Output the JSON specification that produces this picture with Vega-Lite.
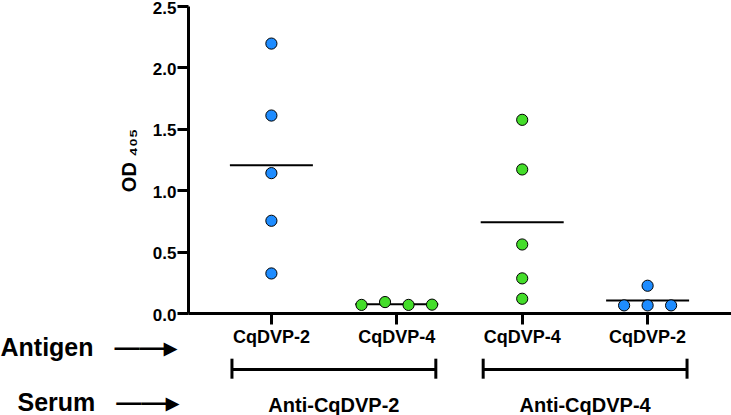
{
  "$schema": "https://vega.github.io/schema/vega-lite/v6.json",
  "width": 543,
  "height": 307,
  "autosize": "none",
  "padding": {"left": 188, "top": 6, "right": 0, "bottom": 102},
  "config": {
    "view": {"stroke": null},
    "font": "Liberation Sans",
    "axis": {"grid": false, "labelColor": "black", "titleColor": "black", "labelFont": "Liberation Sans", "titleFont": "Liberation Sans"}
  },
  "datasets": {
    "od": [
      {"group": "Anti-CqDVP-2 / CqDVP-2", "antigen": "CqDVP-2", "od": 2.194},
      {"group": "Anti-CqDVP-2 / CqDVP-2", "antigen": "CqDVP-2", "od": 1.608},
      {"group": "Anti-CqDVP-2 / CqDVP-2", "antigen": "CqDVP-2", "od": 1.139},
      {"group": "Anti-CqDVP-2 / CqDVP-2", "antigen": "CqDVP-2", "od": 0.751},
      {"group": "Anti-CqDVP-2 / CqDVP-2", "antigen": "CqDVP-2", "od": 0.322},
      {"group": "Anti-CqDVP-2 / CqDVP-4", "antigen": "CqDVP-4", "od": 0.066},
      {"group": "Anti-CqDVP-2 / CqDVP-4", "antigen": "CqDVP-4", "od": 0.089},
      {"group": "Anti-CqDVP-2 / CqDVP-4", "antigen": "CqDVP-4", "od": 0.066},
      {"group": "Anti-CqDVP-2 / CqDVP-4", "antigen": "CqDVP-4", "od": 0.068},
      {"group": "Anti-CqDVP-4 / CqDVP-4", "antigen": "CqDVP-4", "od": 1.573},
      {"group": "Anti-CqDVP-4 / CqDVP-4", "antigen": "CqDVP-4", "od": 1.169},
      {"group": "Anti-CqDVP-4 / CqDVP-4", "antigen": "CqDVP-4", "od": 0.558},
      {"group": "Anti-CqDVP-4 / CqDVP-4", "antigen": "CqDVP-4", "od": 0.282},
      {"group": "Anti-CqDVP-4 / CqDVP-4", "antigen": "CqDVP-4", "od": 0.116},
      {"group": "Anti-CqDVP-4 / CqDVP-2", "antigen": "CqDVP-2", "od": 0.062},
      {"group": "Anti-CqDVP-4 / CqDVP-2", "antigen": "CqDVP-2", "od": 0.062},
      {"group": "Anti-CqDVP-4 / CqDVP-2", "antigen": "CqDVP-2", "od": 0.062},
      {"group": "Anti-CqDVP-4 / CqDVP-2", "antigen": "CqDVP-2", "od": 0.222}
    ],
    "serum": [
      {"serum": "Anti-CqDVP-2"},
      {"serum": "Anti-CqDVP-4"}
    ]
  },
  "layer": [
    {
      "data": {"name": "od"},
      "encoding": {
        "x": {
          "field": "group",
          "type": "nominal",
          "scale": {
            "type": "band",
            "domain": ["Anti-CqDVP-2 / CqDVP-2", "Anti-CqDVP-2 / CqDVP-4", "Anti-CqDVP-4 / CqDVP-4", "Anti-CqDVP-4 / CqDVP-2"],
            "paddingInner": 0,
            "paddingOuter": 0.165
          },
          "axis": {
            "orient": "bottom",
            "title": "Antigen\u00a0\u00a0\u00a0\u2014\u2014\u25b8",
            "titleX": -188,
            "titleY": 42,
            "titleAlign": "left",
            "titleBaseline": "alphabetic",
            "titleFontSize": 25,
            "titleFontWeight": "bold",
            "labelExpr": "split(datum.label, ' / ')[1]",
            "labelAngle": 0,
            "labelFontSize": 18,
            "labelFontWeight": "bold",
            "labelPadding": 4,
            "labelOverlap": false,
            "domainColor": "black",
            "domainWidth": 3,
            "tickColor": "black",
            "tickWidth": 3,
            "tickSize": 11
          }
        },
        "y": {
          "field": "od",
          "type": "quantitative",
          "scale": {"domain": [0, 2.5], "nice": false},
          "axis": {
            "title": "OD \u2084\u2080\u2085",
            "titleX": -53,
            "titleY": 154,
            "titleAngle": -90,
            "titleAlign": "center",
            "titleBaseline": "alphabetic",
            "titleFontSize": 20,
            "titleFontWeight": "bold",
            "values": [0, 0.5, 1, 1.5, 2, 2.5],
            "format": ".1f",
            "labelFontSize": 17,
            "labelFontWeight": "bold",
            "labelPadding": 1,
            "labelOffset": 2,
            "labelFlush": false,
            "labelOverlap": false,
            "tickSize": 11,
            "tickWidth": 3,
            "tickColor": "black",
            "domainWidth": 3,
            "domainColor": "black"
          }
        }
      },
      "layer": [
        {
          "mark": {"type": "tick", "size": 83, "thickness": 2, "color": "black", "opacity": 1},
          "encoding": {
            "y": {"aggregate": "mean", "field": "od", "type": "quantitative"}
          }
        },
        {
          "transform": [
            {"bin": {"step": 0.1}, "field": "od", "as": ["od_bin", "od_bin_end"]},
            {"window": [{"op": "row_number", "as": "k"}, {"op": "count", "as": "n"}], "groupby": ["group", "od_bin"], "frame": [null, null]},
            {"calculate": "datum.k - (datum.n + 1) / 2", "as": "slot"}
          ],
          "mark": {"type": "circle", "size": 125, "opacity": 1, "stroke": "black", "strokeWidth": 1},
          "encoding": {
            "xOffset": {"field": "slot", "type": "quantitative", "scale": {"domain": [-2, 2], "range": [15.7, 109.7]}},
            "color": {
              "field": "antigen",
              "type": "nominal",
              "scale": {"domain": ["CqDVP-2", "CqDVP-4"], "range": ["#1e8cff", "#44dd2a"]},
              "legend": null
            }
          }
        }
      ]
    },
    {
      "data": {"name": "serum"},
      "encoding": {
        "x": {
          "field": "serum",
          "type": "nominal",
          "scale": {"type": "band", "domain": ["Anti-CqDVP-2", "Anti-CqDVP-4"], "paddingInner": 0.1885, "paddingOuter": 0.175},
          "axis": {
            "orient": "bottom",
            "offset": 80,
            "domain": false,
            "ticks": false,
            "labelAngle": 0,
            "labelFontSize": 20,
            "labelFontWeight": "bold",
            "labelPadding": 2,
            "title": "Serum\u00a0\u00a0\u00a0\u2014\u2014\u25b8",
            "titleX": -171,
            "titleY": 17.7,
            "titleAlign": "left",
            "titleBaseline": "alphabetic",
            "titleFontSize": 25,
            "titleFontWeight": "bold"
          }
        }
      },
      "layer": [
        {
          "mark": {"type": "tick", "orient": "horizontal", "size": 204, "thickness": 3, "color": "black", "opacity": 1},
          "encoding": {"y": {"datum": -0.461}}
        },
        {
          "mark": {"type": "rule", "color": "black", "strokeWidth": 3},
          "encoding": {
            "x": {"field": "serum", "type": "nominal", "bandPosition": 0},
            "y": {"datum": -0.372},
            "y2": {"datum": -0.535}
          }
        },
        {
          "mark": {"type": "rule", "color": "black", "strokeWidth": 3},
          "encoding": {
            "x": {"field": "serum", "type": "nominal", "bandPosition": 1},
            "y": {"datum": -0.372},
            "y2": {"datum": -0.535}
          }
        }
      ]
    }
  ],
  "resolve": {"scale": {"x": "independent"}, "axis": {"x": "independent"}}
}
